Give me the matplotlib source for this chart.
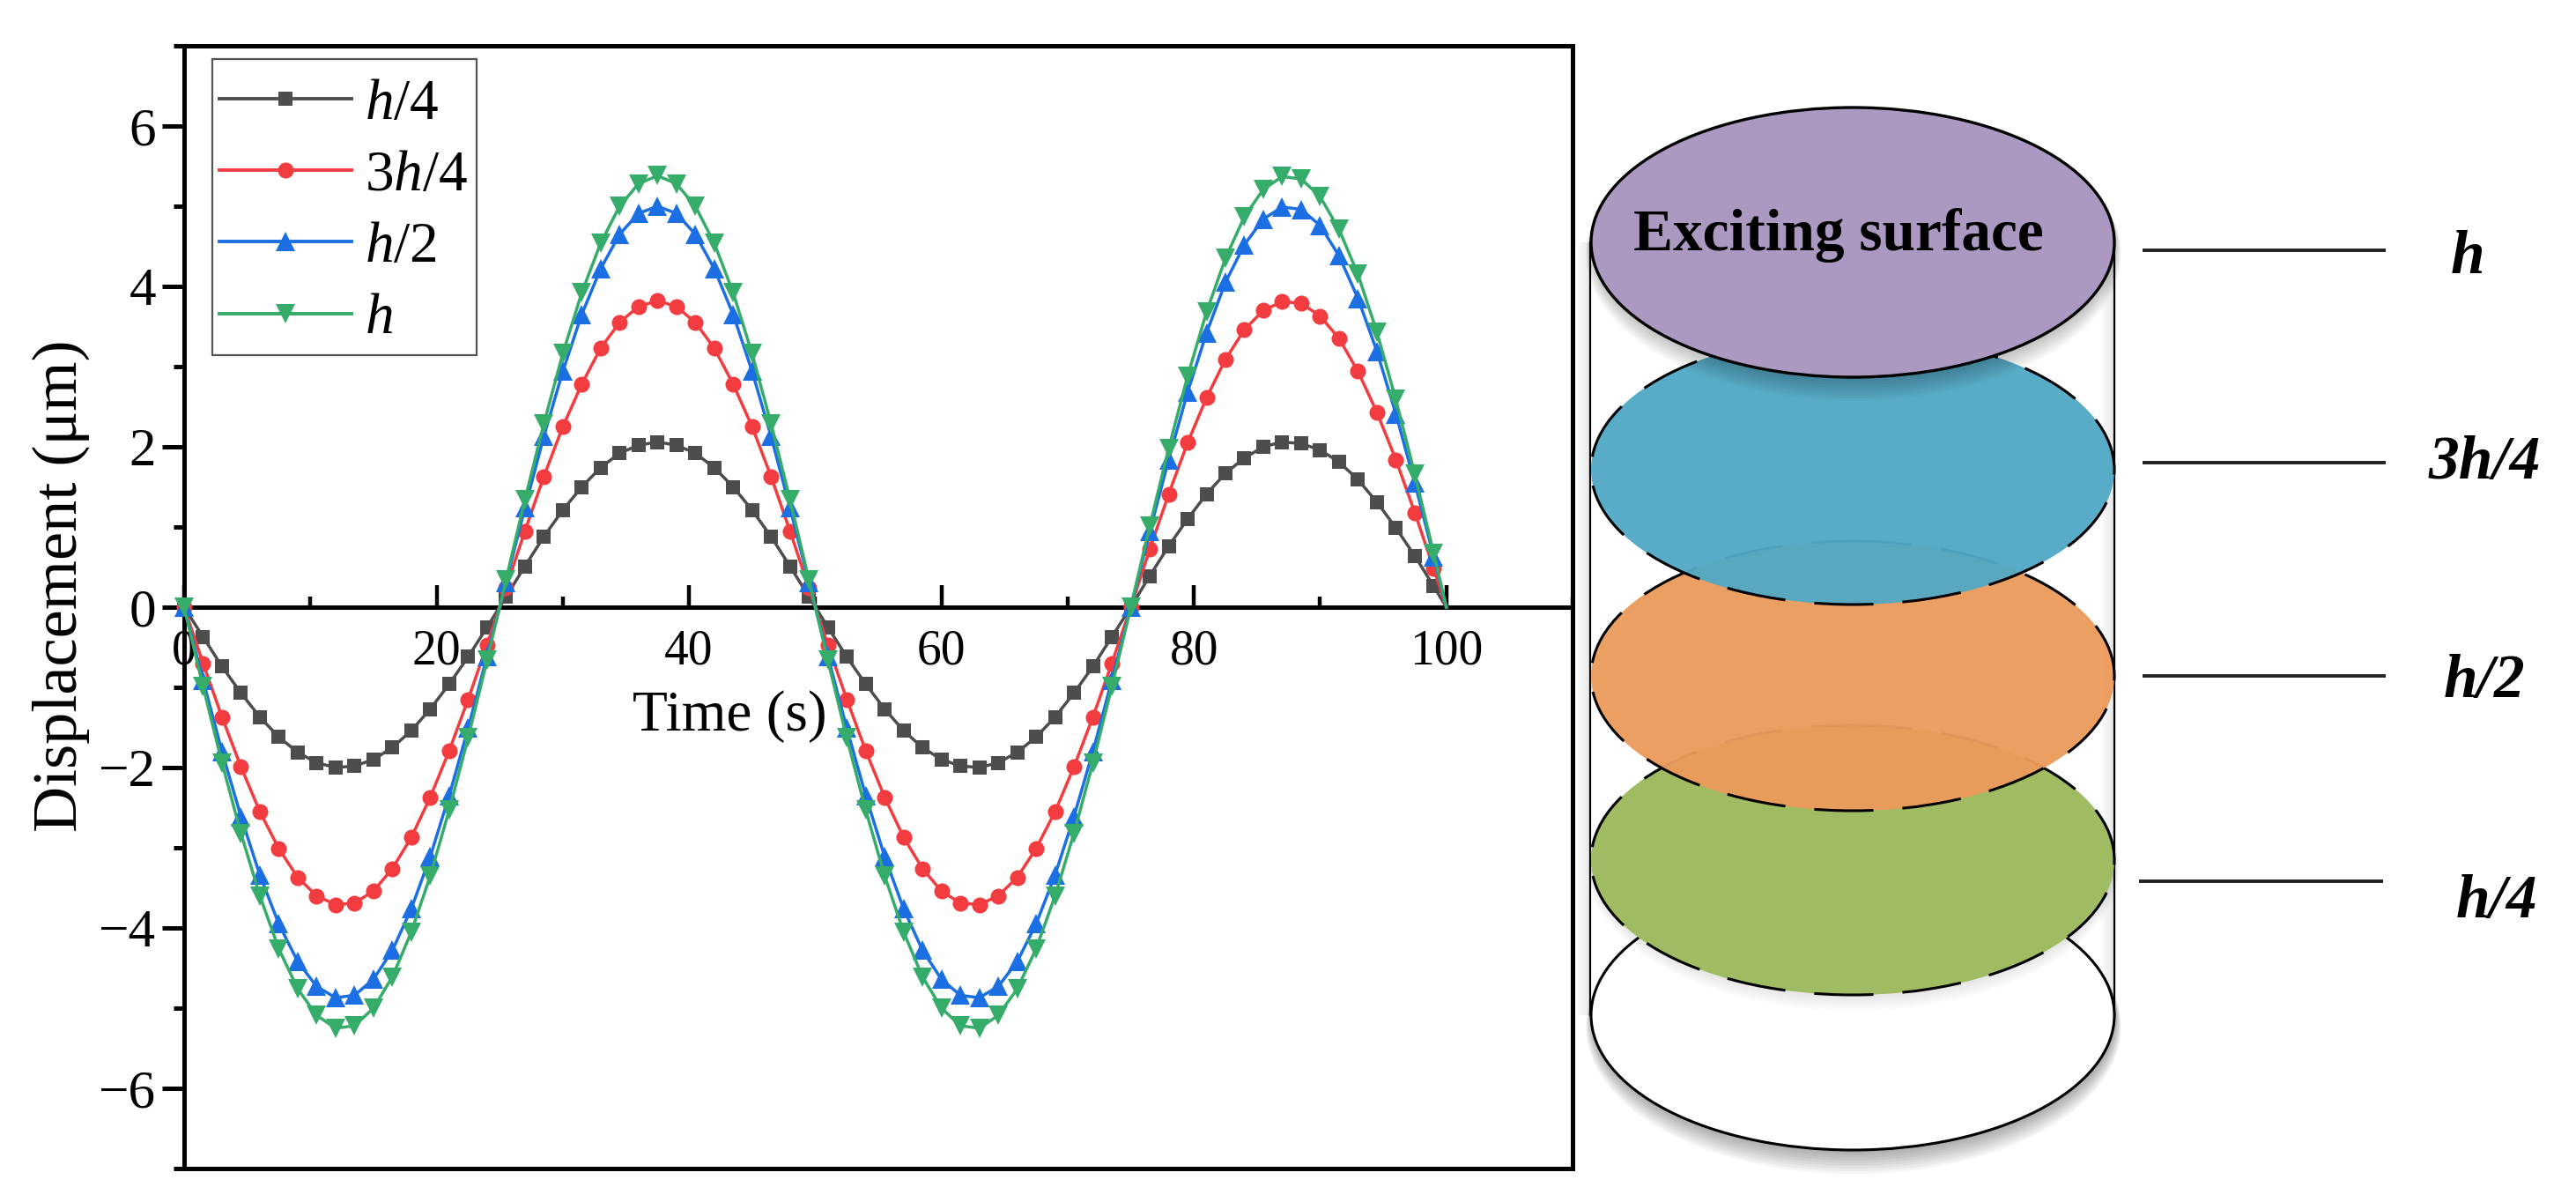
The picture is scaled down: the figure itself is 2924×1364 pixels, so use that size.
import matplotlib
matplotlib.use("Agg")
import matplotlib.pyplot as plt
from matplotlib.lines import Line2D
from matplotlib.patches import Ellipse, Rectangle
from matplotlib.ticker import MultipleLocator

plt.rcParams['font.family'] = ['Liberation Serif', 'DejaVu Serif']
plt.rcParams['mathtext.fontset'] = 'custom'
plt.rcParams['mathtext.rm'] = 'Liberation Serif'
plt.rcParams['mathtext.it'] = 'Liberation Serif:italic'

# sampled every 1.5 s, the last sample closes the curve at 100 s
time_s = [0, 1.5, 3, 4.5, 6, 7.5, 9, 10.5, 12, 13.5, 15, 16.5, 18, 19.5, 21, 22.5, 24,
          25.5, 27, 28.5, 30, 31.5, 33, 34.5, 36, 37.5, 39, 40.5, 42, 43.5, 45, 46.5, 48, 49.5,
          51, 52.5, 54, 55.5, 57, 58.5, 60, 61.5, 63, 64.5, 66, 67.5, 69, 70.5, 72, 73.5, 75,
          76.5, 78, 79.5, 81, 82.5, 84, 85.5, 87, 88.5, 90, 91.5, 93, 94.5, 96, 97.5, 99, 100]

h_quarter = [0, -.37, -.74, -1.07, -1.37, -1.62, -1.81, -1.94, -2.00, -1.98, -1.90, -1.75, -1.54, -1.27, -.96, -.62, -.25,
             .13, .51, .88, 1.21, 1.50, 1.74, 1.92, 2.02, 2.06, 2.02, 1.92, 1.74, 1.50, 1.21, .88, .51, .13,
             -.25, -.62, -.96, -1.27, -1.54, -1.75, -1.90, -1.98, -2.00, -1.94, -1.81, -1.62, -1.37, -1.07, -.74, -.37, 0,
             .39, .76, 1.10, 1.41, 1.67, 1.86, 2.00, 2.06, 2.04, 1.96, 1.81, 1.59, 1.31, .99, .64, .26, 0]

h_three_quarter = [0, -.70, -1.37, -1.99, -2.55, -3.01, -3.37, -3.60, -3.71, -3.69, -3.54, -3.26, -2.87, -2.37, -1.79, -1.15, -.47,
                   .24, .95, 1.63, 2.25, 2.78, 3.23, 3.55, 3.75, 3.82, 3.75, 3.55, 3.23, 2.78, 2.25, 1.63, .95, .24,
                   -.47, -1.15, -1.79, -2.37, -2.87, -3.26, -3.54, -3.69, -3.71, -3.60, -3.37, -3.01, -2.55, -1.99, -1.37, -.70, 0,
                   .72, 1.41, 2.05, 2.61, 3.09, 3.46, 3.70, 3.81, 3.79, 3.63, 3.35, 2.94, 2.43, 1.84, 1.18, .48, 0]

h_half = [0, -.91, -1.80, -2.61, -3.34, -3.95, -4.42, -4.73, -4.87, -4.84, -4.64, -4.28, -3.76, -3.11, -2.35, -1.51, -.61,
          .31, 1.24, 2.13, 2.94, 3.65, 4.22, 4.65, 4.91, 5.00, 4.91, 4.65, 4.22, 3.65, 2.94, 2.13, 1.24, .31,
          -.61, -1.51, -2.35, -3.11, -3.76, -4.28, -4.64, -4.84, -4.87, -4.73, -4.42, -3.95, -3.34, -2.61, -1.80, -.91, 0,
          .94, 1.84, 2.68, 3.42, 4.05, 4.52, 4.84, 4.99, 4.96, 4.76, 4.38, 3.85, 3.19, 2.41, 1.55, .63, 0]

h_full = [0, -.99, -1.94, -2.82, -3.60, -4.26, -4.76, -5.09, -5.25, -5.22, -5.00, -4.61, -4.05, -3.35, -2.53, -1.63, -.66,
          .34, 1.34, 2.29, 3.16, 3.92, 4.54, 5.00, 5.28, 5.38, 5.28, 5.00, 4.54, 3.92, 3.16, 2.29, 1.34, .34,
          -.66, -1.63, -2.53, -3.35, -4.05, -4.61, -5.00, -5.22, -5.25, -5.09, -4.76, -4.26, -3.60, -2.82, -1.94, -.99, 0,
          1.01, 1.98, 2.88, 3.68, 4.35, 4.87, 5.21, 5.37, 5.34, 5.12, 4.71, 4.15, 3.43, 2.59, 1.66, .67, 0]

series_labels = [r'$\mathit{h}$/4', r'3$\mathit{h}$/4', r'$\mathit{h}$/2', r'$\mathit{h}$']
series_colors = ['#4d4d4d', '#f23c40', '#1b6fe3', '#35ac6a']
series_markers = ['s', 'o', '^', 'v']
marker_sizes = [12, 13, 16, 16]

W, H = 2924, 1364
fig = plt.figure(figsize=(W / 100, H / 100), dpi=100)
ax = fig.add_axes([209 / W, (H - 1326) / H, (1785 - 209) / W, (1326 - 52) / H])

handles = []
for values, label, color, marker, size in zip(
        [h_quarter, h_three_quarter, h_half, h_full],
        series_labels, series_colors, series_markers, marker_sizes):
    # no marker on the closing sample at 100 s
    ax.plot(time_s[:-1], values[:-1], color=color, lw=2.5, marker=marker, ms=size,
            mew=0, clip_on=False, zorder=5)
    ax.plot(time_s[-2:], values[-2:], color=color, lw=2.5, clip_on=False, zorder=5)
    handles.append(Line2D([], [], color=color, lw=2.8, marker=marker, ms=size, mew=0, label=label))

ax.set_xlim(0, 110)
ax.set_ylim(-7, 7)
ax.spines['bottom'].set_position(('data', 0))
for spine in ax.spines.values():
    spine.set_linewidth(3.6)
ax.axhline(-7, color='k', lw=3.6, clip_on=False, zorder=4)

ax.xaxis.set_major_locator(MultipleLocator(20))
ax.xaxis.set_minor_locator(MultipleLocator(10))
ax.yaxis.set_major_locator(MultipleLocator(2))
ax.yaxis.set_minor_locator(MultipleLocator(1))
ax.tick_params(axis='x', which='major', direction='in', length=18, width=3.2, labelsize=40, pad=18)
ax.tick_params(axis='x', which='minor', direction='in', length=9, width=3.2)
ax.tick_params(axis='y', which='major', direction='out', length=18, width=3.6, labelsize=44, pad=5)
ax.tick_params(axis='y', which='minor', direction='out', length=9, width=3.6)

ax.set_xlabel('Time (s)', fontsize=47)
ax.xaxis.set_label_coords((828 - 209) / 1576, (1326 - 783) / 1274)
ax.set_ylabel('Displacement (μm)', fontsize=52)
ax.yaxis.set_label_coords((102 - 209) / 1576, (1326 - 665) / 1274)

# legend frame is drawn apart, its padding is wider in height than in width
leg = ax.legend(handles=handles, loc='upper left', bbox_to_anchor=(40 / 1576, 1 - 37 / 1274),
                borderaxespad=0, fontsize=47, numpoints=1, handlelength=2.3, handletextpad=0.23,
                labelspacing=0.33, borderpad=0, frameon=False)
leg.set_zorder(6)

# cylinder sketch on a full figure overlay, in pixel coordinates
sk = fig.add_axes([0, 0, 1, 1])
sk.set_xlim(0, W)
sk.set_ylim(H, 0)
sk.axis('off')
sk.patch.set_visible(False)

sk.add_patch(Rectangle((241, 67), 300, 336, fc='none', ec='#555555', lw=1.6, zorder=1))

cx, rx, ry = 2103, 297, 153
cyl_top, cyl_bottom = 275, 1152
dash = (0, (22, 10.8))


def soft_shadow(y, zorder, alpha=0.026, steps=10):
    # grows downward only, the top edge of the shadow stays hidden
    for i in range(steps):
        sk.add_patch(Ellipse((cx + 1, y + 1.5 * i), 2 * rx + 1.5 * i, 2 * ry + 3 * i,
                             fc='k', ec='none', alpha=alpha, zorder=zorder))


for i in range(8):
    sk.add_patch(Rectangle((2400 - 2 * i - 2, cyl_top), 2 * i + 2, cyl_bottom - cyl_top,
                           fc='k', ec='none', alpha=0.012, zorder=1))
    sk.add_patch(Rectangle((1805 - 2 * i - 2, cyl_top), 2 * i + 2, cyl_bottom - cyl_top,
                           fc='k', ec='none', alpha=0.012, zorder=1))
sk.plot([1805, 1805], [cyl_top, cyl_bottom], color='k', lw=1.6, zorder=2)
sk.plot([2400, 2400], [cyl_top, cyl_bottom], color='k', lw=1.6, zorder=2)

# bottom face, then the slices from low to high
soft_shadow(1152, 1, alpha=0.04)
sk.add_patch(Ellipse((cx, 1152), 2 * rx, 2 * ry, fc='white', ec='k', lw=2.2, zorder=3))

soft_shadow(976, 3.5, alpha=0.015, steps=7)
sk.add_patch(Ellipse((cx, 976), 2 * rx, 2 * ry, fc='#9fbc63', ec='none', zorder=4))
sk.add_patch(Ellipse((cx, 976), 2 * rx, 2 * ry, fc='none', ec='k', lw=2.2, ls=dash, zorder=4))

sk.add_patch(Ellipse((cx, 767), 2 * rx, 2 * ry, fc='#ec9b5c', ec='none', alpha=0.96, zorder=5))
sk.add_patch(Ellipse((cx, 767), 2 * rx, 2 * ry, fc='none', ec='k', lw=2.2, ls=dash, zorder=5))

sk.add_patch(Ellipse((cx, 533), 2 * rx, 2 * ry, fc='#52a9c5', ec='none', alpha=0.96, zorder=6))
sk.add_patch(Ellipse((cx, 533), 2 * rx, 2 * ry, fc='none', ec='k', lw=2.2, ls=dash, zorder=6))

soft_shadow(275, 7)
sk.add_patch(Ellipse((cx, 275), 2 * rx, 2 * ry, fc='#ab99c1', ec='k', lw=2.4, zorder=7))
sk.text(2087, 284, 'Exciting surface', fontsize=48.5, fontweight='bold', ha='center',
        va='baseline', zorder=8)

level_labels = ['h', '3h/4', 'h/2', 'h/4']
level_y = [284, 525, 766.5, 1000]
leader_x = [(2432, 2708), (2432, 2708), (2432, 2708), (2428, 2705)]
label_pos = [(2801, 310), (2820, 543), (2820, 791), (2834, 1041)]
for label, y, (x0, x1), (tx, ty) in zip(level_labels, level_y, leader_x, label_pos):
    sk.plot([x0, x1], [y, y], color='#222222', lw=2.8, solid_capstyle='butt', zorder=8)
    sk.text(tx, ty, label, fontsize=50, fontweight='bold', fontstyle='italic',
            ha='center', va='baseline', zorder=8)

fig.savefig('out.png', dpi=100)
